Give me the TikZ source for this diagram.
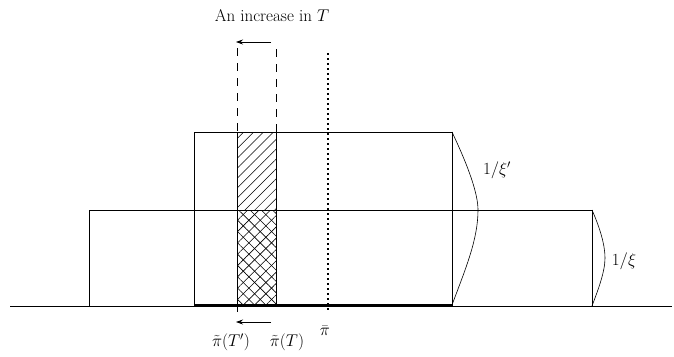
\documentclass[tikz,border=0pt]{standalone}
\usepackage{fix-cm}
\usetikzlibrary{patterns.meta,arrows.meta}
\begin{document}
\begin{tikzpicture}[x=1pt,y=-1pt,
  every node/.style={font=\fontsize{17}{20}\selectfont, inner sep=0pt},
  thinline/.style={line width=0.6pt},
  dashline/.style={dash pattern=on 8pt off 7pt, line width=0.6pt},
  arr/.style={-{Stealth[length=7pt,width=5pt]}, line width=0.7pt}]
\useasboundingbox (0,0) rectangle (674,356);
% hatch regions
\fill[pattern={Lines[angle=45,distance=7pt,line width=0.5pt]}] (237,132) rectangle (276,210);
\fill[pattern={Lines[angle=45,distance=8pt,line width=0.6pt]}] (237,210) rectangle (276,305);
\fill[pattern={Lines[angle=-45,distance=8pt,line width=0.6pt]}] (237,210) rectangle (276,305);
% rectangles
\draw[thinline] (89,306) -- (89,210) -- (592,210) -- (592,306);
\draw[thinline] (194,306) -- (194,132) -- (452,132) -- (452,306);
\draw[line width=1.2pt] (194,305) -- (452,305);
% baseline
\coordinate (bl) at (10,306);
\coordinate (br) at (672,306);
\draw[line width=0.8pt] (bl) -- (br);
% dashed verticals
\coordinate (d1t) at (237,48);
\coordinate (d1b) at (237,312);
\coordinate (d2t) at (276,49);
\coordinate (d2b) at (276,306);
\draw[dashline] (d1t) -- (237,132);
\draw[thinline] (237,132) -- (d1b);
\draw[dashline] (d2t) -- (276,132);
\draw[thinline] (276,132) -- (d2b);
% dotted
\draw[line width=1.2pt, dash pattern=on 2pt off 3pt] (328,53) -- (328,310);
% arrows
\coordinate (a1s) at (271,42); \coordinate (a1e) at (236,42);
\draw[arr] (a1s) -- (a1e);
\coordinate (a2s) at (271,322); \coordinate (a2e) at (236,322);
\draw[arr] (a2s) -- (a2e);
% curves
\draw[thinline] (452,132) .. controls (470,170) and (478,195) .. (478,210)
  .. controls (478,240) and (465,270) .. (452,305);
\draw[thinline] (592,210) .. controls (600,228) and (605,245) .. (605,258)
  .. controls (605,272) and (598,290) .. (592,306);
% labels
\node (title) at (272,16) {An increase in $T$};
\node (xip) at (497,170) {$1/\xi'$};
\node (xi) at (624,261) {$1/\xi$};
\node (pt1) at (231,342) {$\tilde\pi(T')$};
\node (pt2) at (287,342) {$\tilde\pi(T)$};
\node (pb) at (325,331) {$\bar\pi$};
\end{tikzpicture}
\end{document}
